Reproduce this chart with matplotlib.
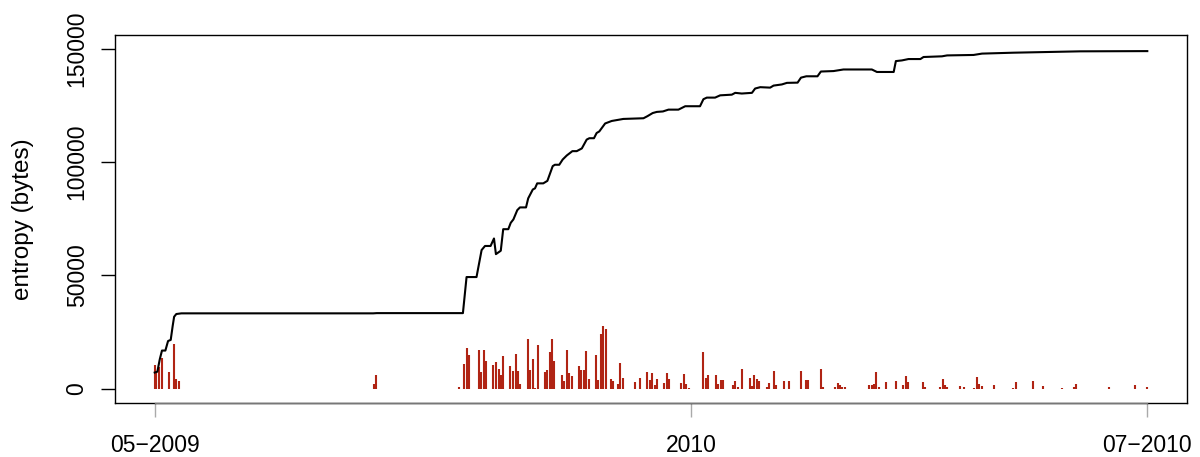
import numpy as np
import matplotlib
matplotlib.use("Agg")
import matplotlib.pyplot as plt

plt.rcParams['font.family'] = ['Liberation Sans', 'DejaVu Sans']

# days since first commit (2009-05-25) and cumulative entropy (bytes)
start = np.datetime64('2009-05-25')
line_days = [0.0, 1.1, 2.1, 3.0, 4.4, 5.5, 6.6, 7.4, 8.0, 8.9, 11.0, 90.0, 91.5,
             127.0, 128.5, 132.6, 134.7, 136.1, 138.4, 139.8, 140.6, 142.6, 143.6,
             145.7, 146.7, 147.8, 149.4, 150.5, 153.0, 153.9, 155.8, 156.7, 157.6,
             160.1, 161.8, 164.0, 164.9, 166.7, 168.1, 169.8, 172.1, 173.9, 176.0,
             178.0, 179.1, 181.0, 182.1, 183.2, 185.6, 188.3, 193.1, 201.4, 203.0,
             205.2, 206.9, 209.4, 211.7, 215.8, 218.6, 224.7, 226.1, 227.5, 230.9,
             233.0, 237.8, 239.2, 241.9, 246.1, 247.4, 249.5, 253.6, 255.0, 258.4,
             260.5, 264.9, 266.3, 268.5, 273.1, 274.5, 279.7, 283.8, 295.5, 297.6,
             304.5, 305.4, 307.9, 310.6, 315.5, 316.8, 324.4, 326.5, 337.4, 340.9,
             353.9, 367.7, 381.4, 409.0]
line_vals = [7200, 7600, 13100, 16900, 16900, 21100, 21600, 27700, 31800, 33000, 33300,
             33300, 33400,
             33400, 49300, 49300, 61200, 63000, 63000, 66300, 59400, 60900, 70400,
             70400, 73200, 74700, 78800, 80000, 80000, 84000, 87900, 88400, 90600,
             90600, 91700, 98200, 98800, 98800, 101100, 102900, 104800, 104800, 106000,
             109900, 110500, 110500, 112800, 113500, 117000, 118100, 119000, 119300, 120200,
             121600, 122100, 122300, 123100, 123100, 124600, 124600, 127700, 128400, 128400,
             129400, 129700, 130500, 130200, 130500, 132400, 133000, 132800, 133700, 134200,
             134900, 135000, 137200, 137800, 137800, 139900, 140100, 140800, 140800, 139700,
             139700, 144500, 144800, 145400, 145400, 146300, 146600, 147000, 147200, 147800,
             148200, 148500, 148800, 148900]

# per-commit entropy (bytes)
bar_days = [0.0, 0.7, 1.9, 2.9, 6.0, 8.0, 8.9, 9.9, 90.3, 91.3,
            125.5, 127.4, 128.5, 129.6, 133.5, 134.6, 135.5, 136.6, 139.5, 140.6,
            141.7, 142.7, 143.6, 146.5, 147.6, 148.7, 149.7, 150.6, 153.7, 154.6,
            155.8, 156.7, 157.8, 160.7, 161.6, 162.8, 163.7, 164.7, 167.8, 168.8,
            169.8, 170.8, 171.8, 174.7, 175.8, 176.9, 177.9, 178.8, 181.7, 182.8,
            183.9, 184.9, 185.9, 187.9, 188.9, 190.9, 191.9, 192.9, 197.9, 200.0,
            203.0, 204.0, 204.9, 206.1, 207.0, 209.9, 211.0, 212.1, 217.0, 218.0,
            219.1, 220.1, 226.1, 227.1, 228.0, 231.2, 232.2, 233.3, 234.2, 238.2,
            239.2, 240.3, 242.2, 245.2, 246.2, 247.1, 248.2, 249.2, 252.2, 253.2,
            255.3, 256.2, 259.3, 261.3, 266.3, 268.3, 269.3, 274.4, 275.3, 280.4,
            281.4, 282.5, 283.4, 284.4, 294.3, 295.4, 296.4, 297.4, 298.4, 301.4,
            305.4, 308.5, 309.6, 310.5, 316.6, 317.5, 323.7, 324.7, 325.6, 326.6,
            331.7, 333.6, 337.7, 338.7, 339.7, 340.7, 345.8, 353.8, 354.9, 361.9,
            365.9, 374.0, 378.8, 379.8, 393.1, 404.1, 409.0]
bar_vals = [10700, 8000, 9800, 13600, 7300, 19800, 4500, 3400, 2200, 6000,
            700, 11000, 18000, 15000, 17300, 7300, 17000, 12400, 10400, 11700,
            8900, 6300, 14700, 10000, 8000, 15500, 7800, 2200, 22100, 8200,
            13300, 600, 19500, 7300, 8200, 16100, 22100, 12400, 6300, 3600,
            17000, 7000, 5600, 10200, 8200, 8200, 16600, 4500, 15000, 4100,
            24200, 27800, 26500, 4500, 3600, 2100, 11300, 4800, 3200, 4800,
            7600, 4100, 6900, 1900, 4500, 2600, 7000, 4400, 2600, 6600,
            2200, 600, 16100, 5000, 6300, 6300, 2300, 4100, 4000, 1900,
            3400, 700, 8800, 5000, 1200, 6300, 4500, 3500, 700, 2600,
            8100, 1900, 3400, 3500, 8100, 3700, 4100, 8900, 1000, 1000,
            2600, 1500, 700, 900, 1500, 1600, 2200, 7500, 1000, 3100,
            3500, 1500, 5900, 3100, 3100, 700, 900, 4500, 1900, 900,
            1200, 900, 600, 5300, 2300, 1200, 1600, 400, 3100, 3500,
            1300, 600, 900, 2200, 700, 1500, 700]

tick_dates = ['2009-05-25', '2010-01-01', '2010-07-08']
tick_labels = ['05\u22122009', '2010', '07\u22122010']
y_ticks = [0, 50000, 100000, 150000]

fig = plt.figure(figsize=(12, 4.57), dpi=100)
ax = fig.add_axes([115 / 1200, 1 - 402.5 / 457, 1072 / 1200, 367.5 / 457])

ax.vlines(bar_days, 0, bar_vals, color='#B02414', linewidth=1.5)
ax.plot(line_days, line_vals, color='black', linewidth=1.5)

span = line_days[-1] - line_days[0]
ax.set_xlim(line_days[0] - 0.04 * span, line_days[-1] + 0.04 * span)
ax.set_ylim(-6000, 156000)

tick_pos = [float((np.datetime64(d) - start).astype(int)) for d in tick_dates]
ax.set_xticks(tick_pos)
ax.set_xticklabels(tick_labels, fontsize=16.5)
ax.tick_params(axis='x', length=10, width=1, color='#aaaaaa', pad=13)
# grey axis line between first and last tick, drawn over the box
ax.plot([tick_pos[0], tick_pos[-1]], [-6000, -6000], color='#777777',
        linewidth=1.0, clip_on=False, zorder=5)

ax.set_yticks(y_ticks)
ax.set_yticklabels([str(v) for v in y_ticks], fontsize=16.5, rotation=90, va='center')
ax.tick_params(axis='y', length=10, width=1, color='black', pad=9)

for s in ax.spines.values():
    s.set_linewidth(1.0)
    s.set_color('black')

ax.set_ylabel('entropy (bytes)', fontsize=17.5, va='center')
ax.yaxis.set_label_coords((23 - 115) / 1072, 0.5)

fig.savefig('out.png', dpi=100)
